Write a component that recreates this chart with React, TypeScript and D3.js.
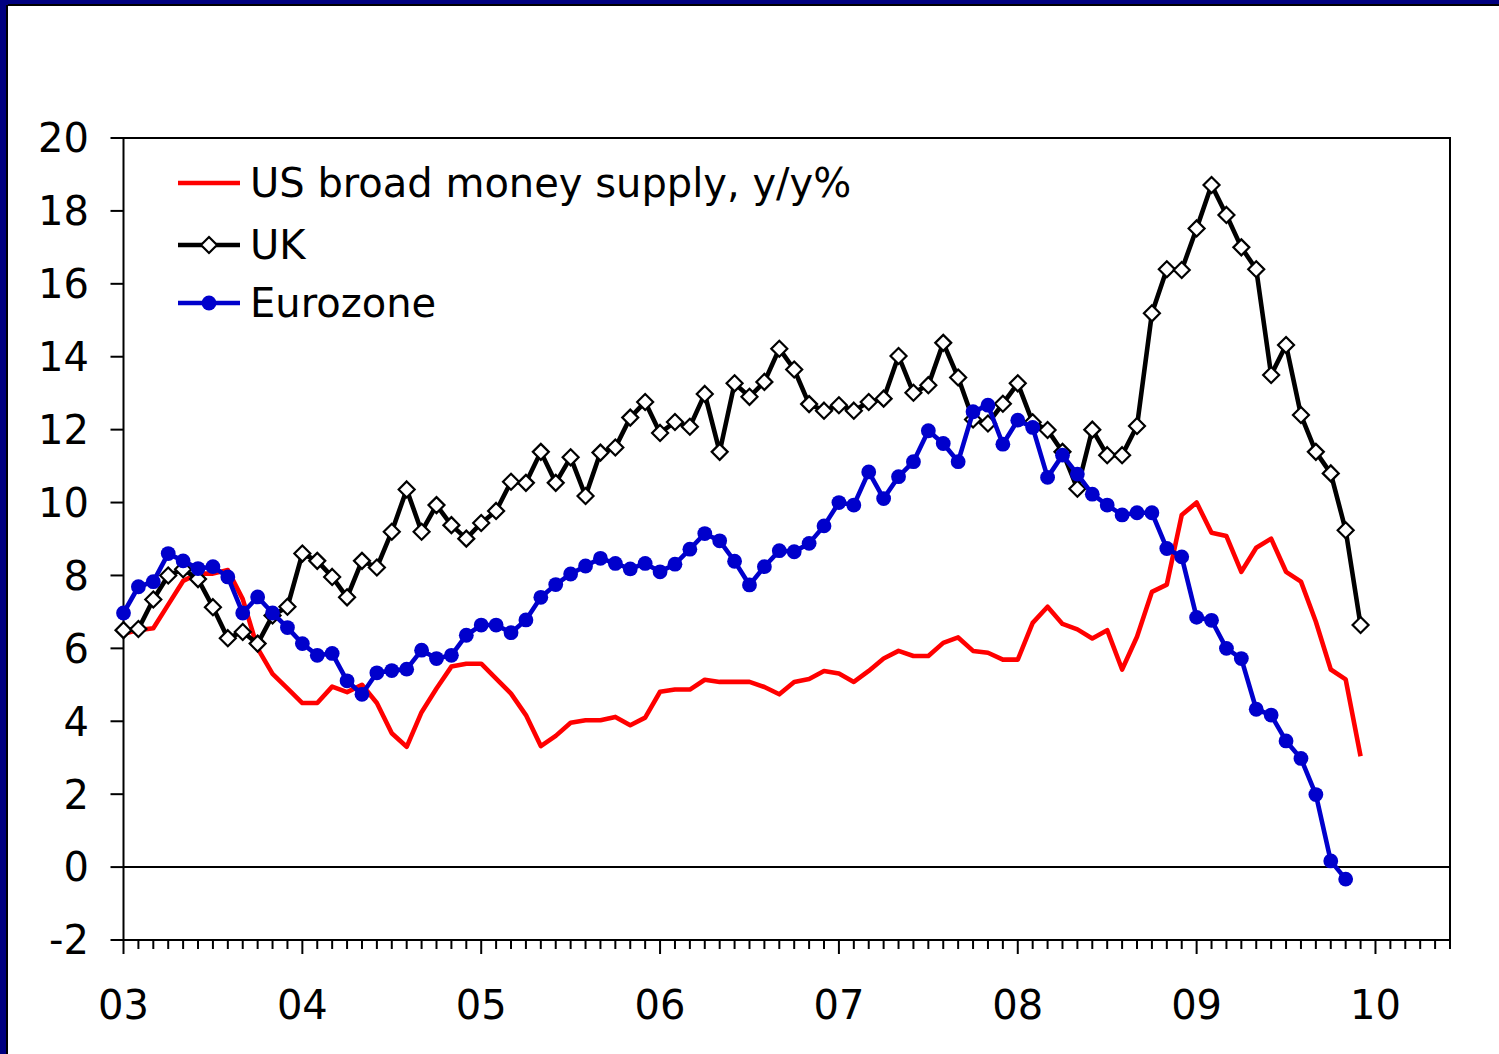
import React from 'react';
import * as d3 from 'd3';

const yearLabels = ['03', '04', '05', '06', '07', '08', '09', '10'];
const yTickValues = [-2, 0, 2, 4, 6, 8, 10, 12, 14, 16, 18, 20];

const usBroad = [
  6.4, 6.5, 6.55, 7.2, 7.85, 8.05, 8.05, 8.15, 7.35, 6.0, 5.3, 4.9,
  4.5, 4.5, 4.95, 4.8, 5.0, 4.5, 3.67, 3.3, 4.25, 4.9, 5.5, 5.58,
  5.58, 5.17, 4.76, 4.17, 3.32, 3.6, 3.96, 4.03, 4.03, 4.12, 3.89, 4.1,
  4.81, 4.87, 4.87, 5.14, 5.08, 5.08, 5.08, 4.94, 4.74, 5.08, 5.16, 5.38,
  5.31, 5.08, 5.38, 5.72, 5.93, 5.79, 5.79, 6.15, 6.3, 5.93, 5.88, 5.69,
  5.69, 6.7, 7.14, 6.67, 6.52, 6.27, 6.5, 5.42, 6.32, 7.55, 7.75, 9.66,
  10.0, 9.17, 9.08, 8.1, 8.76, 9.01, 8.1, 7.83, 6.73, 5.42, 5.15, 3.04,
];

const ukSeries = [
  6.5, 6.53, 7.34, 8.0, 8.17, 7.9, 7.13, 6.28, 6.45, 6.13, 6.9, 7.14,
  8.6, 8.4, 7.96, 7.4, 8.4, 8.22, 9.2, 10.36, 9.2, 9.93, 9.38, 9.01,
  9.44, 9.77, 10.57, 10.54, 11.39, 10.54, 11.24, 10.18, 11.37, 11.51, 12.33, 12.76,
  11.91, 12.21, 12.08, 12.98, 11.39, 13.27, 12.9, 13.31, 14.22, 13.65, 12.7, 12.52,
  12.67, 12.52, 12.76, 12.85, 14.02, 13.01, 13.22, 14.38, 13.43, 12.28, 12.17, 12.71,
  13.27, 12.2, 11.99, 11.39, 10.38, 12.0, 11.3, 11.3, 12.1, 15.19, 16.4, 16.38,
  17.52, 18.71, 17.89, 17.0, 16.4, 13.5, 14.32, 12.4, 11.39, 10.8, 9.24, 6.64,
];

const eurozone = [
  6.97, 7.69, 7.83, 8.6, 8.4, 8.19, 8.24, 7.96, 6.97, 7.41, 6.97, 6.57,
  6.13, 5.81, 5.86, 5.11, 4.74, 5.33, 5.39, 5.43, 5.95, 5.72, 5.81, 6.36,
  6.64, 6.64, 6.43, 6.78, 7.4, 7.75, 8.04, 8.26, 8.47, 8.33, 8.18, 8.33,
  8.1, 8.31, 8.72, 9.15, 8.95, 8.39, 7.74, 8.24, 8.68, 8.65, 8.88, 9.36,
  10.0, 9.93, 10.84, 10.11, 10.71, 11.12, 11.97, 11.62, 11.12, 12.49, 12.67, 11.6,
  12.26, 12.06, 10.69, 11.3, 10.78, 10.23, 9.93, 9.66, 9.72, 9.72, 8.74, 8.51,
  6.85, 6.77, 6.0, 5.72, 4.33, 4.17, 3.46, 2.98, 1.99, 0.17, -0.33,
];

const legendLabels = ['US broad money supply, y/y%', 'UK', 'Eurozone'];

const FONT = '"DejaVu Sans", sans-serif';

export default function App() {
  const W = 1499;
  const H = 1054;
  const left = 123.5;
  const right = 1450;
  const top = 138;
  const bottom = 940;
  const totalMonths = 89;

  const x = d3.scaleLinear().domain([0, totalMonths]).range([left, right]);
  const y = d3.scaleLinear().domain([-2, 20]).range([bottom, top]);
  const line = d3
    .line<number>()
    .x((_, i) => x(i))
    .y((d) => y(d));

  const months = d3.range(0, totalMonths + 1);
  const diamond = (cx: number, cy: number, r: number) =>
    `M${cx},${cy - r}L${cx + r},${cy}L${cx},${cy + r}L${cx - r},${cy}Z`;

  const legendX1 = 178;
  const legendX2 = 240;
  const legendYs = [183, 245, 303];
  const legendMid = (legendX1 + legendX2) / 2;
  const LW = 4.6;
  const DOT = 7.4;
  const DIA = 8;

  return (
    <svg
      width={W}
      height={H}
      style={{ position: 'absolute', left: 0, top: 0, background: '#fff' }}
      fontFamily={FONT}
    >
      <rect x={0} y={0} width={W} height={H} fill="#fff" />
      {/* outer navy frame */}
      <rect x={0} y={0} width={W} height={6} fill="#000080" />
      <rect x={0} y={0} width={8} height={H} fill="#000080" />
      <line x1={8} x2={W} y1={5} y2={5} stroke="#000" strokeWidth={2} />
      <line x1={7} x2={7} y1={5} y2={H} stroke="#000" strokeWidth={2} />

      {/* plot frame */}
      <rect
        x={left}
        y={top}
        width={right - left}
        height={bottom - top}
        fill="none"
        stroke="#000"
        strokeWidth={2}
      />
      {/* zero line */}
      <line x1={left} x2={right} y1={y(0)} y2={y(0)} stroke="#000" strokeWidth={2} />

      {/* y ticks */}
      {yTickValues.map((v) => (
        <g key={`yt${v}`}>
          <line x1={left - 13} x2={left} y1={y(v)} y2={y(v)} stroke="#000" strokeWidth={2} />
          <text
            x={89}
            y={y(v)}
            dy="0.36em"
            textAnchor="end"
            fontSize={40}
            fill="#000"
          >
            {v}
          </text>
        </g>
      ))}

      {/* x ticks */}
      {months.map((m) => (
        <line
          key={`xt${m}`}
          x1={x(m)}
          x2={x(m)}
          y1={bottom}
          y2={bottom + (m % 12 === 0 ? 14 : 9)}
          stroke="#000"
          strokeWidth={2}
        />
      ))}
      {yearLabels.map((lab, i) => (
        <text
          key={`xl${lab}`}
          x={x(i * 12)}
          y={1019}
          textAnchor="middle"
          fontSize={40}
          fill="#000"
        >
          {lab}
        </text>
      ))}

      {/* series lines */}
      <path d={line(usBroad) || ''} fill="none" stroke="#ff0000" strokeWidth={LW} strokeLinejoin="round" />
      <path d={line(ukSeries) || ''} fill="none" stroke="#000" strokeWidth={LW} strokeLinejoin="round" />
      {ukSeries.map((v, i) => (
        <path key={`ukm${i}`} d={diamond(x(i), y(v), DIA)} fill="#fff" stroke="#000" strokeWidth={2.2} />
      ))}
      <path d={line(eurozone) || ''} fill="none" stroke="#0000cc" strokeWidth={LW} strokeLinejoin="round" />
      {eurozone.map((v, i) => (
        <circle key={`ezm${i}`} cx={x(i)} cy={y(v)} r={DOT} fill="#0000cc" />
      ))}

      {/* legend */}
      <line x1={legendX1} x2={legendX2} y1={legendYs[0]} y2={legendYs[0]} stroke="#ff0000" strokeWidth={LW} />
      <line x1={legendX1} x2={legendX2} y1={legendYs[1]} y2={legendYs[1]} stroke="#000" strokeWidth={LW} />
      <path d={diamond(legendMid, legendYs[1], DIA)} fill="#fff" stroke="#000" strokeWidth={2.2} />
      <line x1={legendX1} x2={legendX2} y1={legendYs[2]} y2={legendYs[2]} stroke="#0000cc" strokeWidth={LW} />
      <circle cx={legendMid} cy={legendYs[2]} r={DOT} fill="#0000cc" />
      {legendLabels.map((lab, i) => (
        <text key={`lg${i}`} x={250} y={legendYs[i]} dy="0.36em" fontSize={40} fill="#000">
          {lab}
        </text>
      ))}
    </svg>
  );
}
